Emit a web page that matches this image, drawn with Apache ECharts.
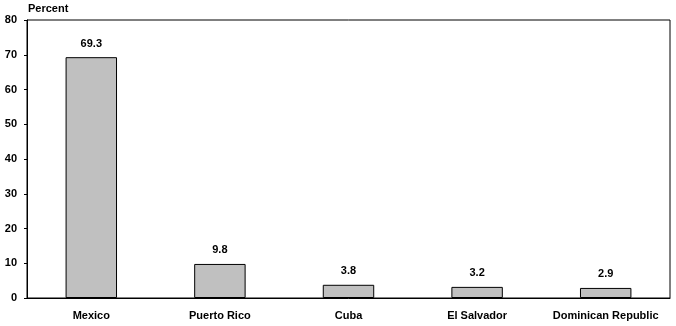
<!DOCTYPE html>
<html><head><meta charset="utf-8">
<script src="https://cdn.jsdelivr.net/npm/echarts@6/dist/echarts.min.js"></script>
<style>html,body{margin:0;padding:0;background:#fff}#c{width:676px;height:326px}</style>
</head><body><div id="c"></div>
<script>
const categories = ['Mexico', 'Puerto Rico', 'Cuba', 'El Salvador', 'Dominican Republic'];
const values = [69.3, 9.8, 3.8, 3.2, 2.9];
const yTicks = [0, 10, 20, 30, 40, 50, 60, 70, 80];

const chart = echarts.init(document.getElementById('c'), null, {renderer: 'canvas'});
const font = {fontFamily: 'Liberation Sans, Arial, sans-serif', fontWeight: 'bold', fontSize: 11, color: '#000'};
chart.setOption({
  animation: false,
  backgroundColor: '#fff',
  grid: {left: 27, right: 6, top: 20, bottom: 28, show: true, borderColor: '#000', borderWidth: 1, containLabel: false},
  graphic: [{type: 'text', left: 28, top: 3, style: {text: 'Percent', font: 'bold 11px "Liberation Sans", Arial, sans-serif', fill: '#000'}}],
  xAxis: {
    type: 'category', data: categories,
    axisLine: {lineStyle: {color: '#000', width: 1}},
    axisTick: {show: false},
    axisLabel: Object.assign({margin: 12, interval: 0}, font)
  },
  yAxis: {
    type: 'value', min: yTicks[0], max: yTicks[yTicks.length - 1], interval: 10,
    axisLine: {show: true, lineStyle: {color: '#000'}},
    axisTick: {show: true, length: 3, lineStyle: {color: '#000'}},
    splitLine: {show: false},
    axisLabel: Object.assign({margin: 10}, font)
  },
  series: [{
    type: 'bar', data: values, barWidth: '40%',
    itemStyle: {color: '#C0C0C0', borderColor: '#000', borderWidth: 1},
    label: Object.assign({show: true, position: 'top', distance: 8, formatter: p => p.value.toFixed(1)}, font)
  }]
});
</script></body></html>
